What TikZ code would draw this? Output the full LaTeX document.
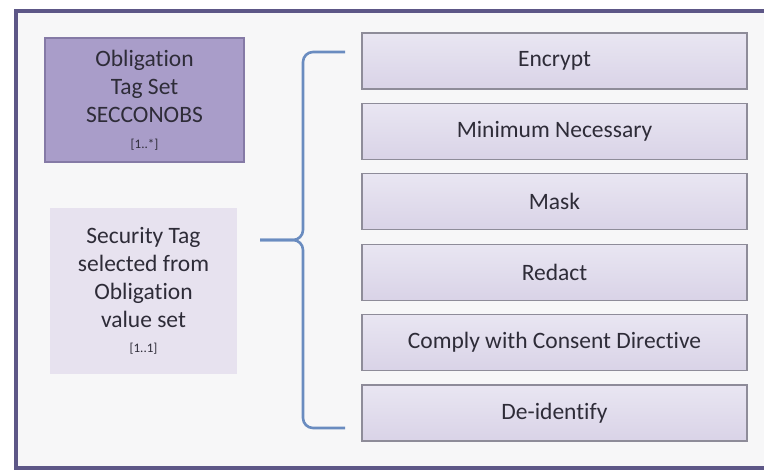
\documentclass[tikz,border=0pt]{standalone}
\usepackage{fontspec}
\setmainfont{Carlito}[Ligatures=NoCommon]
\usetikzlibrary{positioning}
\definecolor{framepurple}{HTML}{5D5787}
\definecolor{panelbg}{HTML}{F7F7F8}
\definecolor{oblfill}{HTML}{A99DC9}
\definecolor{obldraw}{HTML}{857AA6}
\definecolor{secfill}{HTML}{E7E2EF}
\definecolor{acttop}{HTML}{E9E6F2}
\definecolor{actbottom}{HTML}{D9D3E7}
\definecolor{actdraw}{HTML}{8E8C99}
\definecolor{bracecol}{HTML}{6A8CC0}
\definecolor{txt}{HTML}{2E2C38}
\newcommand{\tagfont}{\fontsize{23.5}{28}\selectfont}
\newcommand{\cardfont}{\fontsize{13}{15}\selectfont}
\tikzset{
      obl box/.style={
		fill=oblfill,
		draw=obldraw,
		line width=1.2pt,
		minimum width=199pt,
		minimum height=124pt,
		align=center,
		text=txt,
		font=\tagfont,
	  },
      sec box/.style={
		fill=secfill,
		minimum width=187pt,
		minimum height=166pt,
		align=center,
		text=txt,
		font=\tagfont,
	  },
      action box/.style={
		top color=acttop,
		bottom color=actbottom,
		draw=actdraw,
		line width=1.2pt,
		minimum width=385pt,
		minimum height={#1pt},
		text=txt,
		font=\tagfont,
	  },
      brace/.style={
    	draw=bracecol,
    	line width=2.6pt,
    	rounded corners=10pt,
      }
  	}

\begin{document}
\begin{tikzpicture}[x=1pt, y=-1pt, node distance=13.2pt]
    \useasboundingbox (0,0) rectangle (764,472);
    % panel with its frame (open to the right)
    \fill[panelbg] (17,11) rectangle (764,468);
    \draw[framepurple, line width=4pt] (764,11) -- (16,11) -- (16,468) -- (764,468);

    \node [obl box] (obl) at (144.5,100) {Obligation\\Tag Set\\SECCONOBS\\[-2pt]{\cardfont [1..*]}};
    \node [sec box] (sec) at (143.5,291) {Security Tag\\selected from\\Obligation\\value set\\[-3pt]{\cardfont [1..1]}};

    \node [action box=56] (enc) at (554.5,61) {Encrypt};
    \node [action box=56, below=of enc] (min) {Minimum Necessary};
    \node [action box=56, below=of min] (mask) {Mask};
    \node [action box=56, below=of mask] (red) {Redact};
    \node [action box=56, below=of red] (comp) {Comply with Consent Directive};
    \node [action box=56, below=of comp] (deid) {De-identify};

    % the brace
    \coordinate (brtop) at (345,52);
    \coordinate (brtip) at (260,240);
    \coordinate (brbot) at (345,428);
    \draw [brace] (brtop) -- (303,52) -- (303,240) -- (brtip);
    \draw [brace] (brtip) -- (303,240) -- (303,428) -- (brbot);
  \end{tikzpicture}
\end{document}
